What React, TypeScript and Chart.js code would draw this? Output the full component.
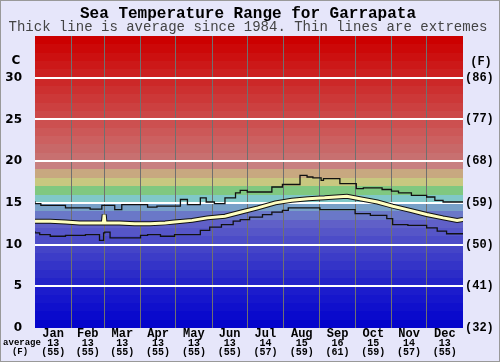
import React, { useEffect, useRef } from "react";
import { Chart, registerables } from "chart.js";

Chart.register(...registerables);

const TITLE = "Sea Temperature Range for Garrapata";
const SUBTITLE = "Thick line is average since 1984. Thin lines are extremes";

const monthNames = ["Jan", "Feb", "Mar", "Apr", "May", "Jun", "Jul", "Aug", "Sep", "Oct", "Nov", "Dec"];
const monthStarts = [0, 31, 59, 90, 120, 151, 181, 212, 243, 273, 304, 334, 365];
const monthAvgC = ["13", "13", "13", "13", "13", "13", "14", "15", "16", "15", "14", "13"];
const monthAvgF = ["(55)", "(55)", "(55)", "(55)", "(55)", "(55)", "(57)", "(59)", "(61)", "(59)", "(57)", "(55)"];

const cTicks = [0, 5, 10, 15, 20, 25, 30];
const fTicks = ["(32)", "(41)", "(50)", "(59)", "(68)", "(77)", "(86)"];

const avgDays = [0, 13, 26, 38, 51, 58.3, 59, 59.7, 72, 85, 98, 111, 119, 134, 147, 162, 176, 190, 205, 219, 233, 247, 266, 277, 292, 305, 320, 334, 348, 360, 365];
const avgTemps = [12.8, 12.8, 12.7, 12.6, 12.6, 12.6, 13.6, 12.6, 12.6, 12.5, 12.5, 12.6, 12.7, 12.9, 13.2, 13.4, 13.9, 14.4, 15.0, 15.3, 15.5, 15.6, 15.8, 15.5, 15.1, 14.6, 14.1, 13.6, 13.2, 12.9, 13.0];

const maxDays = [0, 5, 26, 47, 57, 68, 74, 96, 104, 124, 130, 141, 146, 153, 162, 171, 175, 181, 202, 211, 226, 232, 237, 244, 246, 260, 274, 280, 296, 304, 310, 321, 334, 341, 348, 352, 365];
const maxTemps = [15.2, 14.9, 14.7, 14.4, 14.25, 14.7, 14.2, 14.8, 14.5, 14.6, 15.4, 14.8, 15.6, 15.1, 14.9, 15.6, 16.2, 16.5, 16.3, 16.9, 17.2, 18.3, 18.1, 18.0, 17.7, 17.9, 17.3, 16.7, 16.8, 16.6, 16.4, 16.2, 15.9, 15.7, 15.3, 15.1, 15.1];

const minDays = [0, 4, 13, 26, 43, 55, 58.5, 59.5, 64, 90, 96, 107, 119, 141, 149, 159, 169, 175, 183, 194, 202, 211, 216, 243, 273, 286, 300, 305, 318, 334, 343, 351, 356, 365];
const minTemps = [11.6, 11.4, 11.2, 11.0, 11.1, 11.2, 10.5, 11.4, 11.5, 10.8, 11.1, 11.2, 11.0, 11.2, 11.7, 12.1, 12.4, 12.8, 13.0, 13.3, 13.6, 13.9, 14.1, 14.4, 14.2, 13.7, 13.5, 13.1, 12.4, 12.3, 12.0, 11.6, 11.3, 11.3];

// one colour per 1°C band, from 0-1 up to 34-35
const bandColors = [
  "#0404cc", "#0a0acc", "#1010cc", "#1616cc", "#1c1ccc",
  "#2424c8", "#2c2cc8", "#3434c8", "#3c3cc8", "#4444c8",
  "#4c4cc8", "#5656c8", "#6060c8", "#6a78c8", "#78a0c8",
  "#80c8c8", "#80c880", "#c8c880", "#c8a880", "#c88080",
  "#c87070", "#c86868", "#cc6060", "#cc5858", "#cc5050",
  "#cc4848", "#cc4040", "#cc3838", "#cc3030", "#cc2828",
  "#cc2020", "#cc1818", "#cc1010", "#cc0808", "#cc0000",
];

const zip = (xs: number[], ys: number[]) => xs.map((x, i) => ({ x, y: ys[i] }));

const MONO = '"Liberation Mono", "DejaVu Sans Mono", monospace';
const SANS = '"DejaVu Sans", Verdana, sans-serif';

const seaPlugin = {
  id: "seaPlugin",
  beforeDraw(chart: any) {
    const { ctx, chartArea, scales } = chart;
    const ys = scales.y;
    ctx.save();
    ctx.fillStyle = "#e6e6fa";
    ctx.fillRect(0, 0, chart.width, chart.height);
    for (let i = 0; i < bandColors.length; i++) {
      const yTop = Math.round(ys.getPixelForValue(i + 1));
      const yBot = Math.round(ys.getPixelForValue(i));
      ctx.fillStyle = bandColors[i];
      ctx.fillRect(chartArea.left, yTop, chartArea.right - chartArea.left, yBot - yTop);
    }
    ctx.restore();
  },
  afterDraw(chart: any) {
    const { ctx, chartArea, scales } = chart;
    const xs = scales.x;
    const ys = scales.y;
    ctx.save();
    ctx.strokeStyle = "#999";
    ctx.lineWidth = 1;
    ctx.strokeRect(0.5, 0.5, chart.width - 1, chart.height - 1);

    ctx.textAlign = "center";
    ctx.textBaseline = "alphabetic";
    ctx.fillStyle = "#000";
    ctx.font = `bold 16px ${MONO}`;
    ctx.fillText(TITLE, 248, 18);
    ctx.fillStyle = "#444";
    ctx.font = `14px ${MONO}`;
    ctx.fillText(SUBTITLE, 248, 31);

    ctx.fillStyle = "#000";
    ctx.textBaseline = "middle";
    ctx.textAlign = "right";
    ctx.font = `bold 12px ${SANS}`;
    cTicks.forEach((v) => ctx.fillText(String(v), 22, ys.getPixelForValue(v)));
    ctx.textAlign = "center";
    ctx.fillText("C", 16, 61);

    ctx.font = `bold 12px ${MONO}`;
    ctx.textAlign = "left";
    cTicks.forEach((v, i) => ctx.fillText(fTicks[i], chartArea.right + 2, ys.getPixelForValue(v)));
    ctx.textAlign = "center";
    ctx.fillText("(F)", 481, 62);

    for (let m = 0; m < 12; m++) {
      const cx = xs.getPixelForValue((monthStarts[m] + monthStarts[m + 1]) / 2);
      ctx.font = `bold 12px ${MONO}`;
      ctx.fillText(monthNames[m], cx, chartArea.bottom + 6);
      ctx.font = `bold 10px ${MONO}`;
      ctx.fillText(monthAvgC[m], cx, chartArea.bottom + 15);
      ctx.fillText(monthAvgF[m], cx, chartArea.bottom + 24);
    }
    ctx.font = `bold 9px ${MONO}`;
    ctx.fillText("average", 22, chartArea.bottom + 15);
    ctx.fillText("(F)", 20, chartArea.bottom + 24);
    ctx.restore();
  },
};

export default function App() {
  const ref = useRef<HTMLCanvasElement>(null);
  useEffect(() => {
    if (!ref.current) return;
    const chart = new Chart(ref.current, {
      type: "line",
      data: {
        datasets: [
          {
            data: zip(avgDays, avgTemps),
            borderColor: "#ffffc0",
            borderWidth: 3,
            pointRadius: 0,
            tension: 0,
            order: 0,
          },
          {
            data: zip(avgDays, avgTemps),
            borderColor: "#111",
            borderWidth: 5,
            pointRadius: 0,
            tension: 0,
            order: 1,
          },
          {
            data: zip(maxDays, maxTemps),
            borderColor: "#111",
            borderWidth: 1.3,
            pointRadius: 0,
            stepped: "after",
            order: 2,
          },
          {
            data: zip(minDays, minTemps),
            borderColor: "#111",
            borderWidth: 1.3,
            pointRadius: 0,
            stepped: "after",
            order: 2,
          },
        ],
      },
      options: {
        responsive: false,
        animation: false,
        layout: { padding: { left: 35, right: 37, top: 36, bottom: 34 } },
        plugins: { legend: { display: false }, tooltip: { enabled: false }, title: { display: false } },
        scales: {
          x: {
            type: "linear",
            min: 0,
            max: 365,
            afterBuildTicks: (scale: any) => {
              scale.ticks = monthStarts.map((v) => ({ value: v }));
            },
            ticks: { display: false },
            grid: {
              color: (c: any) => (c.tick && (c.tick.value === 0 || c.tick.value === 365) ? "rgba(0,0,0,0)" : "#707070"),
              lineWidth: 1,
              drawTicks: false,
            },
            border: { display: false },
          },
          y: {
            type: "linear",
            min: 0,
            max: 35,
            ticks: { display: false, stepSize: 5 },
            grid: {
              color: (c: any) => (c.tick && (c.tick.value === 0 || c.tick.value === 35) ? "rgba(0,0,0,0)" : "#ffffff"),
              lineWidth: 2,
              drawTicks: false,
            },
            border: { display: false },
          },
        },
      },
      plugins: [seaPlugin],
    });
    return () => chart.destroy();
  }, []);
  return (
    <div style={{ position: "absolute", left: 0, top: 0, width: 500, height: 362 }}>
      <canvas ref={ref} width={500} height={362} />
    </div>
  );
}
